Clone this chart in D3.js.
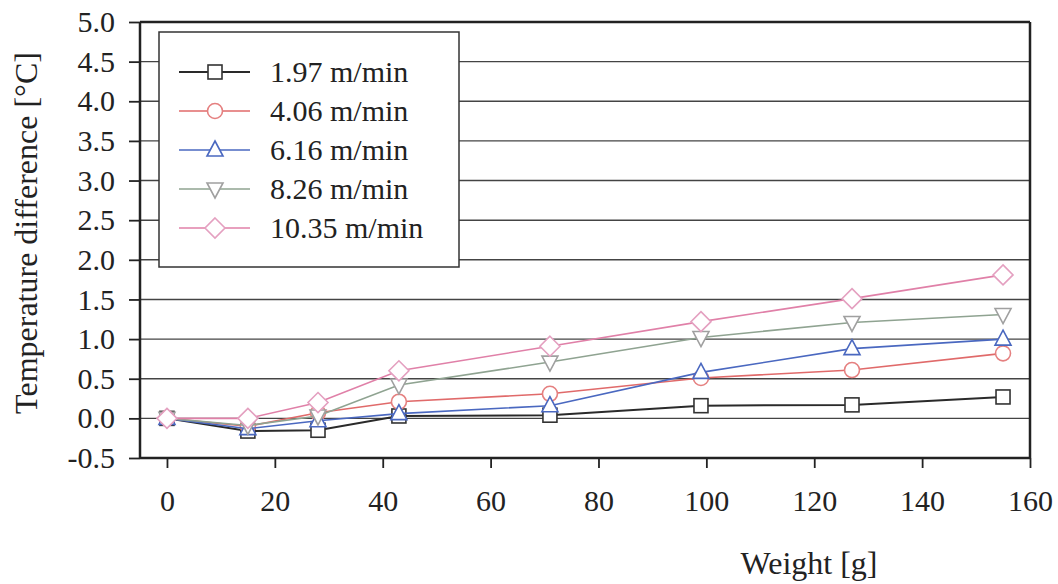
<!DOCTYPE html>
<html>
<head>
<meta charset="utf-8">
<script src="https://cdn.jsdelivr.net/npm/d3@7"></script>
<style>
    body { margin: 0; background: #fff; }
    text { font-family: "Liberation Serif", "Times New Roman", serif; fill: #222; }
</style>
</head>
<body>
<svg id="chart" width="1058" height="584"></svg>
<script>
// weights on the x axis [g]
var weights = [0, 15, 28, 43, 71, 99, 127, 155];
var speeds = ["1.97 m/min", "4.06 m/min", "6.16 m/min", "8.26 m/min", "10.35 m/min"];
var s197 = [0, -0.16, -0.15, 0.03, 0.04, 0.16, 0.17, 0.27];
var s406 = [0, -0.10, 0.07, 0.21, 0.31, 0.51, 0.61, 0.82];
var s616 = [0, -0.13, -0.03, 0.06, 0.16, 0.58, 0.88, 1.00];
var s826 = [0, -0.09, 0.03, 0.42, 0.71, 1.02, 1.21, 1.31];
var s1035 = [0, 0.00, 0.20, 0.60, 0.91, 1.22, 1.51, 1.81];
var yTicks = [-0.5, 0, 0.5, 1, 1.5, 2, 2.5, 3, 3.5, 4, 4.5, 5];
var xTicks = [0, 20, 40, 60, 80, 100, 120, 140, 160];

var series = [
    {name: speeds[0], values: s197, line: "#2a2a2a", mark: "#333", shape: "square"},
    {name: speeds[1], values: s406, line: "#e06a6a", mark: "#e58080", shape: "circle"},
    {name: speeds[2], values: s616, line: "#4a68c0", mark: "#4a68c0", shape: "up"},
    {name: speeds[3], values: s826, line: "#8fa391", mark: "#a0a0a0", shape: "down"},
    {name: speeds[4], values: s1035, line: "#e080a8", mark: "#e4a0c0", shape: "diamond"}
];

var svg = d3.select("#chart");
var x = d3.scaleLinear().domain([-5, 160]).range([140, 1030]);
var y = d3.scaleLinear().domain([-0.5, 5]).range([458, 22]);

// horizontal grid lines
svg.append("g").selectAll("line").data(yTicks.filter(function (d) { return d > -0.5; }))
        .enter().append("line")
        .attr("x1", x(-5)).attr("x2", x(160))
        .attr("y1", function (d) { return y(d); })
        .attr("y2", function (d) { return y(d); })
        .attr("stroke", function (d) { return d === 5 ? "#222" : "#444"; })
        .attr("stroke-width", function (d) { return d === 5 ? 2.5 : 1.4; });

// right frame
svg.append("line")
        .attr("x1", x(160)).attr("x2", x(160))
        .attr("y1", y(5)).attr("y2", y(-0.5))
        .attr("stroke", "#222").attr("stroke-width", 2.5);

// axes - plain hyphen for negatives like the original
var fmt1 = d3.format(".1f");
var yAxis = d3.axisLeft(y).tickValues(yTicks).tickSize(11).tickPadding(14)
        .tickFormat(function (d) { return fmt1(d).replace("\u2212", "-"); });
var gy = svg.append("g").attr("transform", "translate(" + x(-5) + ",0)").call(yAxis);
var xAxis = d3.axisBottom(x).tickValues(xTicks).tickSize(10).tickPadding(22)
        .tickFormat(d3.format("d"));
var gx = svg.append("g").attr("transform", "translate(0," + y(-0.5) + ")").call(xAxis);

[gy, gx].forEach(function (g) {
    g.select(".domain").attr("stroke", "#222").attr("stroke-width", 2.5);
    g.selectAll(".tick line").attr("stroke", "#222").attr("stroke-width", 1.8);
    g.selectAll(".tick text").style("font-family", "Liberation Serif")
            .style("font-size", "30px").attr("fill", "#222");
});
gy.select(".domain").attr("d", "M0," + y(5) + "V" + y(-0.5));
gx.select(".domain").attr("d", "M" + x(-5) + ",0H" + x(160));

// axis titles
svg.append("text")
        .attr("transform", "translate(37,233) rotate(-90)")
        .attr("text-anchor", "middle")
        .style("font-size", "32px")
        .text("Temperature difference [°C]");
svg.append("text")
        .attr("x", 809).attr("y", 574)
        .attr("text-anchor", "middle")
        .style("font-size", "32px")
        .text("Weight [g]");

function drawMarker(g, shape, cx, cy, color) {
    var m;
    if (shape === "square") {
        m = g.append("rect").attr("x", cx - 7).attr("y", cy - 7)
                .attr("width", 14).attr("height", 14);
    } else if (shape === "circle") {
        m = g.append("circle").attr("cx", cx).attr("cy", cy).attr("r", 7.5);
    } else if (shape === "up") {
        m = g.append("path").attr("d", "M" + cx + "," + (cy - 9) + "L" + (cx + 8) + "," + (cy + 6)
                + "L" + (cx - 8) + "," + (cy + 6) + "Z");
    } else if (shape === "down") {
        m = g.append("path").attr("d", "M" + cx + "," + (cy + 9) + "L" + (cx + 8) + "," + (cy - 6)
                + "L" + (cx - 8) + "," + (cy - 6) + "Z");
    } else {
        m = g.append("path").attr("d", "M" + cx + "," + (cy - 10) + "L" + (cx + 10) + "," + cy
                + "L" + cx + "," + (cy + 10) + "L" + (cx - 10) + "," + cy + "Z");
    }
    m.attr("fill", "#fff").attr("stroke", color).attr("stroke-width", 1.6);
}

// series
var line = d3.line()
        .x(function (d, i) { return x(weights[i]); })
        .y(function (d) { return y(d); });

series.forEach(function (s) {
    var g = svg.append("g");
    g.append("path").datum(s.values)
            .attr("d", line)
            .attr("fill", "none")
            .attr("stroke", s.line)
            .attr("stroke-width", s.shape === "square" ? 2 : 1.6);
    s.values.forEach(function (v, i) {
        drawMarker(g, s.shape, x(weights[i]), y(v), s.mark);
    });
});

// legend box
var legend = svg.append("g");
legend.append("rect")
        .attr("x", 159).attr("y", 32).attr("width", 300).attr("height", 235)
        .attr("fill", "#fff").attr("stroke", "#333").attr("stroke-width", 1.5);
series.forEach(function (s, i) {
    var ly = 72 + i * 39;
    legend.append("line")
            .attr("x1", 179).attr("x2", 250).attr("y1", ly).attr("y2", ly)
            .attr("stroke", s.line).attr("stroke-width", s.shape === "square" ? 2 : 1.6);
    drawMarker(legend, s.shape, 215, ly, s.mark);
    legend.append("text")
            .attr("x", 270).attr("y", ly + 10)
            .style("font-size", "30px")
            .text(s.name);
});
</script>
</body>
</html>
